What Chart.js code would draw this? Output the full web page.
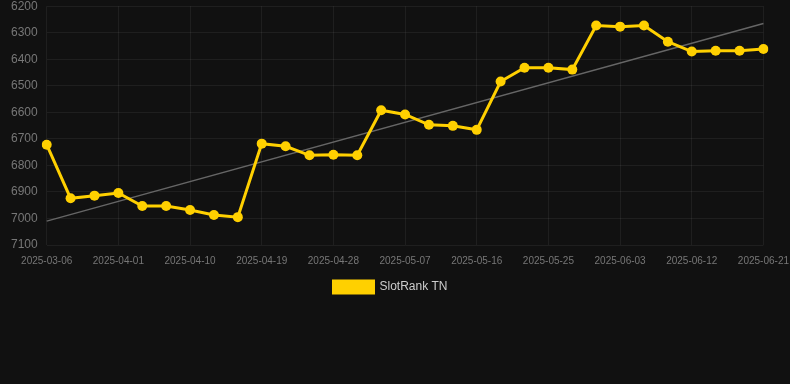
<!DOCTYPE html>
<html>
<head>
<meta charset="utf-8">
<script src="https://cdn.jsdelivr.net/npm/chart.js@4"></script>
<style>
  html, body { margin: 0; padding: 0; background: #111111; overflow: hidden; }
  #wrap { width: 799px; height: 313px; position: relative; margin-top: -10px; }
</style>
</head>
<body>
<div id="wrap"><canvas id="chart"></canvas></div>
<script>
// dates shown on the x axis (one per point, every third is labelled)
const labels = [
  '2025-03-06', '2025-03-26', '2025-03-29', '2025-04-01', '2025-04-04',
  '2025-04-07', '2025-04-10', '2025-04-13', '2025-04-16', '2025-04-19',
  '2025-04-22', '2025-04-25', '2025-04-28', '2025-05-01', '2025-05-04',
  '2025-05-07', '2025-05-10', '2025-05-13', '2025-05-16', '2025-05-19',
  '2025-05-22', '2025-05-25', '2025-05-28', '2025-05-31', '2025-06-03',
  '2025-06-06', '2025-06-09', '2025-06-12', '2025-06-15', '2025-06-18',
  '2025-06-21',
];

// rank values
const rankValues = [
  6722, 6924, 6914, 6904, 6953, 6953, 6968, 6987, 6995, 6718,
  6728, 6762, 6760, 6762, 6592, 6608, 6647, 6651, 6666, 6484,
  6432, 6432, 6439, 6273, 6277, 6273, 6334, 6371, 6368, 6368,
  6361,
];

// trend line end points (first and last date)
const trendDates = ['2025-03-06', '2025-06-21'];
const trendValues = [7010, 6265];

const YELLOW = '#ffd000';
const FONT = 'Liberation Sans, Arial, sans-serif';

// the legend sits a little left of centre in the original
const legendShift = {
  id: 'legendShift',
  afterLayout(chart) {
    if (!chart.legend) return;
    chart.legend.left -= 10;
    chart.legend.right -= 10;
  },
};

new Chart(document.getElementById('chart'), {
  type: 'line',
  data: {
    labels,
    datasets: [
      {
        label: 'SlotRank TN',
        data: rankValues,
        borderColor: YELLOW,
        backgroundColor: YELLOW,
        borderWidth: 3,
        pointRadius: 5,
        pointBackgroundColor: YELLOW,
        pointBorderWidth: 0,
        tension: 0,
        order: 1,
      },
      {
        label: 'trend',
        data: trendDates.map((d, i) => ({ x: d, y: trendValues[i] })),
        borderColor: '#666666',
        borderWidth: 1.5,
        pointRadius: 0,
        fill: false,
        order: 2,
      },
    ],
  },
  options: {
    responsive: true,
    maintainAspectRatio: false,
    animation: false,
    layout: { padding: { left: 2, right: 0, top: 0, bottom: 0 } },
    scales: {
      x: {
        grid: { color: 'rgba(255,255,255,0.06)', drawTicks: false },
        border: { display: false },
        ticks: {
          color: '#777777',
          font: { size: 10, family: FONT },
          maxRotation: 0,
          autoSkip: true,
          padding: 10,
        },
      },
      y: {
        reverse: true,
        min: 6200,
        max: 7100,
        grid: { color: 'rgba(255,255,255,0.06)', drawTicks: false },
        border: { display: false },
        ticks: {
          stepSize: 100,
          color: '#777777',
          font: { size: 12, family: FONT },
          padding: 9,
          callback: (v) => String(v),
        },
      },
    },
    plugins: {
      legend: {
        position: 'bottom',
        labels: {
          color: '#cccccc',
          boxWidth: 40,
          boxHeight: 12,
          padding: 4,
          font: { size: 12, family: FONT },
          filter: (item) => item.text !== 'trend',
        },
      },
      tooltip: { enabled: false },
    },
  },
  plugins: [legendShift],
});
</script>
</body>
</html>
